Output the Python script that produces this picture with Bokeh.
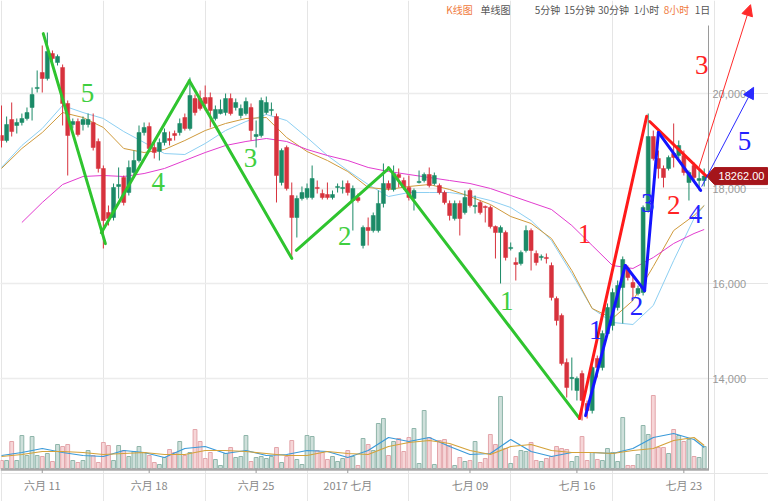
import datetime as dt
from bokeh.plotting import figure
from bokeh.models import Range1d, Arrow, NormalHead, ColumnDataSource
from bokeh.core.properties import value
from bokeh.embed import file_html
from bokeh.resources import INLINE

# ---------------- data ----------------
start_time = dt.datetime(2017, 6, 8, 8)   # first 8-hour candle
candle_hours = 8

opens = [19116,19011,19453,19327,19390,19474,19706,20106,20442,20316,20842,20653,20548,19790,19348,19411,19348,19348,19390,18990,
         18422,17495,17390,18043,18232,17916,18337,18590,19179,19306,18864,18779,18969,19053,19158,19179,19495,19264,19895,19895,
         19916,19916,19474,19579,19600,19895,19706,19537,19579,19706,19095,19116,19600,19642,19516,18127,18864,17853,17390,17790,
         17811,17811,18022,17895,17874,17811,18022,18001,18106,17748,17811,16801,17180,17116,17116,17685,18106,17980,18295,18169,
         18022,17790,18127,18169,18295,18106,18064,17916,17685,17369,17685,17495,17958,17622,17706,17622,17601,17201,17074,17074,
         16738,16443,16422,16696,17116,16633,16548,16548,16380,15685,15328,14338,14001,13749,14106,13475,13328,14422,14233,14948,
         15117,15496,15917,16317,16022,15791,15812,17537,19095,18632,18422,18422,18737,18695,18695,18127,18485,18169,18169]
highs = [19748,19516,19811,19474,19579,19706,20127,20485,21011,21284,20906,20821,20611,19853,19474,19474,19516,19579,19579,19053,
         18485,17643,18106,18443,18274,18590,18800,19327,19390,19390,19011,19053,19264,19200,19221,19474,19579,20337,19979,20063,
         20169,20021,19748,19874,20000,20000,19895,19769,19916,19790,19432,19916,19937,19811,19579,18843,18906,18127,17853,18043,
         18106,18485,18169,17980,18127,17958,18106,18169,18169,18064,17895,17222,17390,17495,17958,18527,18169,18485,18422,18232,
         18274,18001,18379,18337,18443,18337,18106,17958,17748,17748,17748,17958,18001,17853,17748,17643,17643,17222,17222,17116,
         16864,16548,16696,17222,17159,16696,16612,16633,16443,15728,15370,14422,14443,14043,14170,13538,14275,14485,15012,15580,
         15896,16064,16570,16380,16169,15959,17643,19579,19221,18800,18485,18695,19369,19011,18800,18379,18548,18379,18422]
lows = [18864,18969,19095,19158,19327,19432,19432,20021,20021,20274,20653,20590,19327,18274,19264,19095,19221,19285,18800,18337,
        16738,17222,17327,17790,17643,17853,18274,18548,19116,18800,18632,18590,18906,18906,19011,19116,19221,19221,19537,19642,
        19642,19285,19432,19560,19537,19537,19642,19474,19537,19011,18864,19074,19558,19537,17706,18064,17958,16527,16969,17748,
        17769,17769,17895,17769,17769,17769,17916,17895,17853,17116,17706,16738,16801,17074,17074,17601,17958,17937,18022,17980,
        17748,17537,18106,18127,18022,18064,17874,17664,17327,17327,17011,17453,17601,17474,17453,17285,17159,16527,16001,16485,
        16696,16064,16380,16654,16275,16380,16485,16422,15643,15117,14275,13601,13749,13538,13117,13159,13264,14022,14170,14906,
        15012,15433,15159,16064,15707,15749,15749,17495,18590,18211,18022,18379,18443,18632,18274,17748,18169,17958,18043]
closes = [19011,19348,19200,19390,19474,19600,19979,20127,20316,20884,20737,20779,19790,19116,19411,19137,19453,19453,18864,18422,
          17327,17369,18022,18085,17706,18443,18590,19179,19285,18843,18758,18969,19179,19011,19116,19369,19264,19958,19600,19685,
          19790,19642,19664,19664,19895,19579,19811,19685,19832,19221,19137,19853,19811,19664,18274,18800,18001,17390,17790,17916,
          18001,18211,18001,17811,17811,17874,18043,18022,17916,18001,17748,17180,17116,17432,17685,18106,18001,18316,18232,18022,
          17811,17958,18148,18295,18064,18274,17916,17706,17432,17685,17369,17811,17643,17643,17495,17601,17201,17074,17180,16548,
          16759,16401,16654,17116,16696,16443,16570,16527,15707,15222,14317,13812,14022,14001,13538,13328,14233,14233,14948,15496,
          15812,15959,16506,16127,15917,15896,17601,19095,18632,18422,18232,18653,18653,18906,18337,18337,18232,18211,18262]
volumes = [800,800,2700,800,3300,1300,3200,1300,1200,1500,700,2400,2200,2400,800,600,800,1800,1300,600,
           2600,2300,800,2300,1800,1200,1700,2200,1600,1300,600,400,1100,1900,1600,2700,1300,1600,3900,2700,
           1000,1600,900,300,1500,2100,1100,1200,3300,700,1100,1200,1000,1200,2100,600,1200,2800,900,400,
           3300,3200,1800,1600,900,1200,700,1000,1800,1200,300,3000,2400,1800,4500,5000,1300,2700,3000,1700,
           3100,4000,500,5800,3100,400,2800,2900,2300,300,1100,700,800,2700,600,1000,3400,2400,7200,2000,
           500,1200,1800,1700,2600,800,700,1000,1200,2200,2000,1900,700,1200,3200,800,1600,900,800,2000,
           1600,700,5100,300,300,1400,4300,3400,7300,2100,2100,1500,3900,3300,2700,2900,1200,1100,2200]

ma_idx = [0,4,8,12,16,20,24,28,32,36,40,44,48,52,56,60,64,68,72,76,80,84,88,92,96,100,104,108,112,116,120,124,128,132,136,138]
ma_fast = [18443,18906,19264,19748,19600,19474,19200,18969,18737,18716,18948,19221,19411,19558,19432,19074,18695,18379,
           18085,17832,17916,17916,17916,17853,17748,17601,17327,16906,16211,15475,15180,15138,15538,16485,17369,17643]
ma_mid = [18422,18843,19179,19600,19495,19285,18843,18758,18822,19011,19221,19369,19474,19495,19074,18779,18590,18358,
          18022,17980,18043,18085,17980,17832,17664,17411,17264,16948,16274,15475,15264,15643,16359,17116,17432,17643]
ma_long_idx = ma_idx[1:]
ma_long = [17285,17706,18085,18253,18274,18253,18316,18422,18590,18758,18906,18990,19053,18990,18822,18695,18590,18443,
           18358,18295,18232,18169,18106,18001,17853,17706,17559,17222,16801,16380,16317,16548,16843,17053,17138]
vol_ma_fast = [1300,1600,2000,1600,1300,1200,1800,1600,1100,2000,2200,1500,1800,1300,1400,1800,1700,1100,
               1800,3100,2700,3100,2200,1400,1500,2900,1700,1200,1600,1600,1500,2000,3100,3500,2900,2100]
vol_ma_slow = [1200,1400,1700,1700,1600,1400,1500,1600,1400,1400,1800,1800,1700,1500,1300,1300,1700,1500,
               1400,2200,2600,2800,2500,1800,1400,2200,2400,1800,1600,1600,1500,1800,2000,2800,3100,2300]

# wave annotations (candle index, price)
green_waves = [((8.2, 21260), (20.4, 16840)), ((19.6, 17070), (36.9, 20270)), ((36.9, 20270), (57.0, 16530)),
               ((57.9, 16700), (76.0, 18420)), ((76.0, 18440), (113.5, 13160))]
red_waves = [((113.5, 13160), (126.7, 19520)), ((127.3, 19410), (138.3, 18270))]
blue_waves = [((114.7, 13220), (122.5, 16380)), ((122.5, 16380), (126.3, 15850)),
              ((126.3, 15850), (129.0, 19180)), ((129.0, 19180), (137.3, 17960))]
red_arrow = ((136.9, 18420), (147.1, 21870))
blue_arrow = ((137.5, 18040), (147.7, 20130))
green_labels = [("5", 16.9, 20021), ("4", 30.8, 18127), ("3", 48.9, 18653), ("2", 67.4, 17011), ("1", 99.2, 15643)]
red_labels = [("1", 114.5, 17053), ("2", 132.0, 17643), ("3", 137.5, 20590)]
blue_labels = [("1", 116.7, 15012), ("2", 124.7, 15517), ("3", 126.9, 17685), ("4", 136.3, 17474), ("5", 145.9, 19011)]

price_ticks = [14000, 16000, 18000, 20000]
date_ticks = [dt.datetime(2017, 6, 11), dt.datetime(2017, 6, 18), dt.datetime(2017, 6, 25), dt.datetime(2017, 7, 1),
              dt.datetime(2017, 7, 9), dt.datetime(2017, 7, 16), dt.datetime(2017, 7, 23)]
date_labels = ["六月 11", "六月 18", "六月 25", "2017 七月", "七月 09", "七月 16", "七月 23"]
menu_labels = ["K线图", "单线图", "5分钟", "15分钟", "30分钟", "1小时", "8小时", "1日"]
menu_active = [True, False, False, False, False, False, True, False]

# ---------------- layout helpers ----------------
W, H = 768, 501
PX_PER_CANDLE = 5.092
X0 = -0.2
Y_TOP = 21958.0
PRICE_PER_PX = 21.05
VOL_PER_PX = 100.0
VOL_BASE_PX = 468


def sx(px):
    return X0 + px / PX_PER_CANDLE


def sy(py):
    return Y_TOP - py * PRICE_PER_PX


FRAME_RIGHT = sx(708)

p = figure(width=W, height=H, output_backend="svg", toolbar_location=None,
           x_axis_location=None, y_axis_location=None, min_border=0,
           x_range=Range1d(X0, sx(W)), y_range=Range1d(sy(H), Y_TOP))
p.outline_line_color = None
p.background_fill_color = "white"
p.border_fill_color = "white"
p.extra_y_ranges = {"vol": Range1d(-(H - VOL_BASE_PX) * VOL_PER_PX, VOL_BASE_PX * VOL_PER_PX)}

UP = "#1b8a67"
DOWN = "#d7323d"
n = len(closes)
idx = list(range(n))
up = [c >= o for o, c in zip(opens, closes)]
tops, bots = [], []
for o, c in zip(opens, closes):
    t, b = max(o, c), min(o, c)
    if t - b < 25:
        m = (t + b) / 2
        t, b = m + 12, m - 12
    tops.append(t)
    bots.append(b)

src = ColumnDataSource(dict(
    x=idx, high=highs, low=lows, top=tops, bottom=bots, vol=volumes,
    color=[UP if u else DOWN for u in up],
    vfill=["#cfe0db" if u else "#f6d6d8" for u in up],
    vline=["#8fb5aa" if u else "#e3a5aa" for u in up],
))

# grid lines
for v in price_ticks:
    p.line([X0, FRAME_RIGHT], [v, v], line_color="#ececec", line_width=1.5)

# volume
p.vbar(x="x", top="vol", bottom=0, width=0.75, fill_color="vfill", line_color="vline",
       line_width=1, source=src, y_range_name="vol")
p.line(ma_idx, vol_ma_fast, line_color="#3a9ad9", line_width=1.2, y_range_name="vol")
p.line(ma_idx, vol_ma_slow, line_color="#d4a23a", line_width=1.2, y_range_name="vol")

# moving averages
p.line(ma_idx, ma_fast, line_color="#8ccff2", line_width=1)
p.line(ma_idx, ma_mid, line_color="#cf9a3c", line_width=1)
p.line(ma_long_idx, ma_long, line_color="#e23ccf", line_width=1)

# candles
p.segment(x0="x", x1="x", y0="low", y1="high", line_color="color", line_width=1, source=src)
p.vbar(x="x", top="top", bottom="bottom", width=0.78, fill_color="color", line_color="color",
       line_width=0.5, source=src)

# axes (drawn)
p.segment(x0=[FRAME_RIGHT], x1=[FRAME_RIGHT], y0=[sy(25)], y1=[sy(470)], line_color="#9a9a9a", line_width=1)
p.line([X0, FRAME_RIGHT], [-100, -100], line_color="#a8a8a8", line_width=2.5, y_range_name="vol")
tick_x = [(d - start_time).total_seconds() / 3600.0 / candle_hours for d in date_ticks]
p.segment(x0=tick_x, x1=tick_x, y0=[-100] * len(tick_x), y1=[-450] * len(tick_x),
          line_color="#999999", line_width=1, y_range_name="vol")
p.text(x=tick_x, y=[sy(484)] * len(tick_x), text=date_labels, text_align="center", text_baseline="middle",
       text_font=value("Noto Sans CJK SC"), text_font_size="11px", text_color="#888888")
p.text(x=[sx(712)] * len(price_ticks), y=price_ticks, text=[f"{v:,}" for v in price_ticks],
       text_align="left", text_baseline="middle", text_font=value("Liberation Sans"),
       text_font_size="11px", text_color="#999999")

# wave lines
for segs, col in ((green_waves, "#2fc42f"), (red_waves, "#ff1a1a"), (blue_waves, "#1414ff")):
    p.segment(x0=[s[0][0] for s in segs], y0=[s[0][1] for s in segs],
              x1=[s[1][0] for s in segs], y1=[s[1][1] for s in segs],
              line_color=col, line_width=3, line_cap="round")
for (a, b), col in ((red_arrow, "#ff2a2a"), (blue_arrow, "#2a2aff")):
    p.add_layout(Arrow(end=NormalHead(size=11, fill_color=col, line_color=col),
                       x_start=a[0], y_start=a[1], x_end=b[0], y_end=b[1],
                       line_color=col, line_width=1))
for labels, col in ((green_labels, "#3fcf3f"), (red_labels, "#ff2424"), (blue_labels, "#2323ff")):
    p.text(x=[l[1] for l in labels], y=[l[2] for l in labels], text=[l[0] for l in labels],
           text_align="center", text_baseline="middle", text_font=value("Liberation Serif"),
           text_font_size="27px", text_color=col)

# last price tag
last = closes[-1]
hh = 8.5 * PRICE_PER_PX
p.patch([sx(706), sx(714), sx(767), sx(767), sx(714)],
        [last, last + hh, last + hh, last - hh, last - hh],
        fill_color="#a5151b", line_color="#a5151b")
p.text(x=[sx(741)], y=[last], text=[f"{last:.2f}"], text_align="center", text_baseline="middle",
       text_font=value("Liberation Sans"), text_font_size="11px", text_color="white")

# top menu
menu_x = [459, 495, 547, 579, 613, 646, 676, 702]
p.text(x=[sx(v) for v in menu_x], y=[sy(9)] * len(menu_x), text=menu_labels,
       text_align="center", text_baseline="middle", text_font=value("Noto Sans CJK SC"),
       text_font_size="10px", text_color=["#f07a3c" if a else "#555555" for a in menu_active])

open("out.html", "w").write(file_html(p, INLINE))
